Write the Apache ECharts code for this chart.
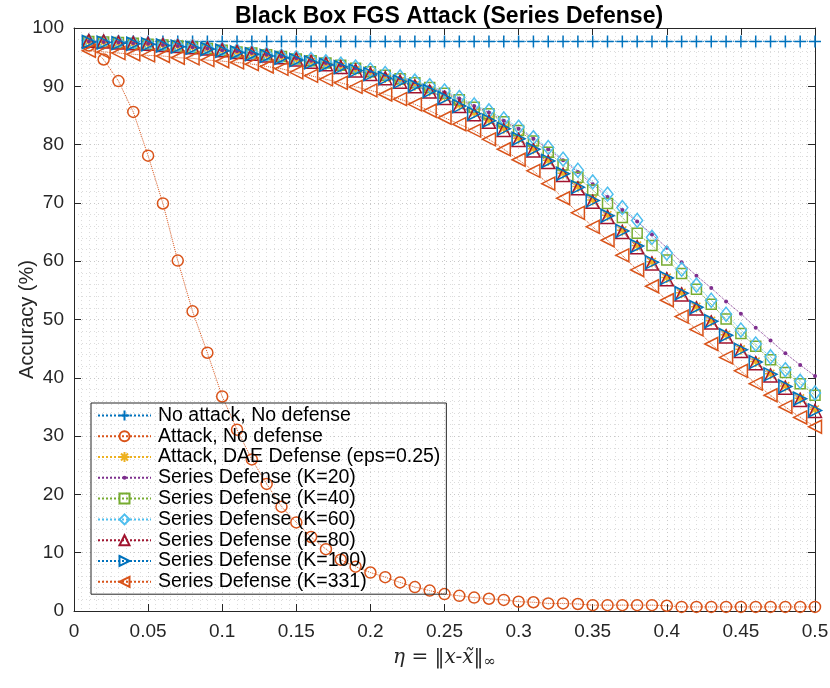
<!DOCTYPE html>
<html>
<head>
<meta charset="utf-8">
<title>Black Box FGS Attack (Series Defense)</title>
<script src="https://cdn.jsdelivr.net/npm/echarts@6/dist/echarts.min.js"></script>
<style>
  html, body { margin: 0; padding: 0; background: #fff; }
  #chart { width: 830px; height: 688px; }
</style>
</head>
<body>
<div id="chart"></div>
<script>
// eta = ||x - x~||_inf
const eta = [
  0.01, 0.02, 0.03, 0.04, 0.05, 0.06, 0.07, 0.08, 0.09, 0.10,
  0.11, 0.12, 0.13, 0.14, 0.15, 0.16, 0.17, 0.18, 0.19, 0.20,
  0.21, 0.22, 0.23, 0.24, 0.25, 0.26, 0.27, 0.28, 0.29, 0.30,
  0.31, 0.32, 0.33, 0.34, 0.35, 0.36, 0.37, 0.38, 0.39, 0.40,
  0.41, 0.42, 0.43, 0.44, 0.45, 0.46, 0.47, 0.48, 0.49, 0.50
]

const noAttack = [
  97.7, 97.7, 97.7, 97.7, 97.7, 97.7, 97.7, 97.7, 97.7, 97.7,
  97.7, 97.7, 97.7, 97.7, 97.7, 97.7, 97.7, 97.7, 97.7, 97.7,
  97.7, 97.7, 97.7, 97.7, 97.7, 97.7, 97.7, 97.7, 97.7, 97.7,
  97.7, 97.7, 97.7, 97.7, 97.7, 97.7, 97.7, 97.7, 97.7, 97.7,
  97.7, 97.7, 97.7, 97.7, 97.7, 97.7, 97.7, 97.7, 97.7, 97.7
]

const attackNoDefense = [
  97.0, 94.6, 90.9, 85.6, 78.1, 69.9, 60.1, 51.4, 44.3, 36.8,
  31.1, 26.0, 21.8, 17.9, 15.2, 12.7, 10.6, 8.8, 7.6, 6.6,
  5.8, 4.9, 4.1, 3.5, 2.9, 2.6, 2.3, 2.1, 1.9, 1.6,
  1.5, 1.3, 1.3, 1.2, 1.0, 1.0, 1.0, 1.0, 1.0, 0.9,
  0.7, 0.7, 0.7, 0.7, 0.7, 0.7, 0.7, 0.7, 0.7, 0.7
]

const daeDefense = [
  97.7, 97.6, 97.5, 97.4, 97.3, 97.1, 96.9, 96.7, 96.5, 96.2,
  95.9, 95.6, 95.3, 95.0, 94.6, 94.2, 93.8, 93.4, 92.8, 92.2,
  91.5, 90.9, 90.2, 89.3, 88.2, 86.8, 85.5, 84.2, 82.8, 81.1,
  79.3, 77.3, 75.1, 72.8, 70.5, 67.9, 65.3, 62.7, 59.9, 57.2,
  54.6, 52.2, 49.8, 47.4, 44.9, 42.8, 40.7, 38.6, 36.5, 34.6
]

const seriesK20 = [
  97.7, 97.6, 97.5, 97.4, 97.3, 97.1, 96.9, 96.7, 96.5, 96.2,
  96.0, 95.7, 95.4, 95.1, 94.8, 94.4, 94.0, 93.6, 93.1, 92.6,
  92.0, 91.4, 90.7, 89.9, 89.0, 87.9, 86.6, 85.5, 84.1, 82.7,
  81.0, 79.2, 77.3, 75.3, 73.2, 71.0, 68.8, 66.8, 64.6, 62.3,
  59.8, 57.5, 55.4, 53.1, 51.0, 48.6, 46.4, 44.2, 42.2, 40.3
]

const seriesK40 = [
  97.7, 97.6, 97.5, 97.4, 97.2, 97.1, 96.9, 96.7, 96.5, 96.2,
  95.9, 95.7, 95.4, 95.1, 94.7, 94.4, 94.0, 93.6, 93.1, 92.5,
  91.9, 91.3, 90.6, 89.8, 88.8, 87.7, 86.4, 85.3, 83.9, 82.4,
  80.6, 78.7, 76.5, 74.4, 72.2, 69.9, 67.5, 64.8, 62.7, 60.2,
  57.9, 55.2, 52.6, 50.1, 47.6, 45.4, 43.1, 40.9, 39.0, 37.0
]

const seriesK60 = [
  97.7, 97.6, 97.5, 97.4, 97.3, 97.1, 97.0, 96.8, 96.6, 96.3,
  96.1, 95.8, 95.5, 95.2, 94.9, 94.6, 94.2, 93.8, 93.3, 92.8,
  92.2, 91.6, 90.9, 90.1, 89.2, 88.1, 86.8, 85.8, 84.4, 83.0,
  81.2, 79.5, 77.5, 75.6, 73.6, 71.5, 69.2, 67.0, 64.1, 61.4,
  58.6, 55.9, 53.3, 50.9, 48.2, 45.8, 43.6, 41.4, 39.4, 37.4
]

const seriesK80 = [
  97.8, 97.7, 97.5, 97.4, 97.3, 97.1, 96.9, 96.7, 96.5, 96.2,
  95.9, 95.6, 95.3, 95.0, 94.6, 94.2, 93.8, 93.3, 92.7, 92.1,
  91.4, 90.8, 90.0, 89.1, 88.0, 86.6, 85.2, 83.9, 82.5, 80.8,
  79.0, 77.0, 74.8, 72.5, 70.2, 67.6, 65.0, 62.4, 59.6, 56.9,
  54.3, 51.9, 49.5, 47.1, 44.6, 42.5, 40.4, 38.3, 36.2, 34.3
]

const seriesK100 = [
  97.6, 97.5, 97.4, 97.3, 97.2, 97.0, 96.8, 96.6, 96.4, 96.1,
  95.8, 95.5, 95.2, 94.9, 94.5, 94.1, 93.7, 93.3, 92.7, 92.1,
  91.4, 90.8, 90.1, 89.2, 88.0, 86.6, 85.3, 84.1, 82.7, 81.0,
  79.2, 77.2, 75.0, 72.7, 70.4, 67.8, 65.2, 62.6, 59.8, 57.1,
  54.5, 52.1, 49.7, 47.3, 44.8, 42.7, 40.6, 38.5, 36.4, 34.4
]

const seriesK331 = [
  96.1, 95.9, 95.7, 95.5, 95.3, 95.2, 94.9, 94.8, 94.5, 94.3,
  94.1, 93.8, 93.4, 93.0, 92.4, 91.8, 91.2, 90.6, 89.9, 89.3,
  88.6, 87.8, 86.9, 85.8, 84.6, 83.5, 82.4, 80.9, 79.2, 77.4,
  75.5, 73.3, 70.8, 68.3, 65.9, 63.6, 61.0, 58.5, 55.7, 53.3,
  50.5, 48.3, 45.8, 43.5, 41.2, 39.0, 37.0, 35.0, 33.2, 31.6
]

const xTicks = { min: 0, max: 0.5, interval: 0.05 }
const yTicks = { min: 0, max: 100, interval: 10 }

// MATLAB-style markers
const PLUS = 'path://M5,0L5,10M0,5L10,5'
const STAR = 'path://M5,0L5,10M0,5L10,5M1.5,1.5L8.5,8.5M8.5,1.5L1.5,8.5'
const DOT = 'path://M0,0M10,10M5,3A2,2,0,1,1,5,7A2,2,0,1,1,5,3Z'
const TRI_UP = 'path://M5,0L10,9L0,9Z'
const TRI_RIGHT = 'path://M0,0L9,5L0,10Z'
const TRI_LEFT = 'path://M9,0L0,5L9,10Z'

const FONT = '"Liberation Sans", Arial, Helvetica, sans-serif'
const AXIS_COLOR = '#262626'

function pairs(values) {
  return eta.map((x, i) => [x, values[i]])
}

function lineSeries(name, values, color, symbol, size, filled) {
  return {
    name,
    type: 'line',
    data: pairs(values),
    symbol,
    symbolSize: size,
    showSymbol: true,
    lineStyle: { color, width: 1, type: 'dotted' },
    itemStyle: filled
      ? { color, borderWidth: 0 }
      : { color: 'none', borderColor: color, borderWidth: 1.5 },
    emphasis: { disabled: true },
    animation: false
  }
}

const seriesList = [
  lineSeries('No attack, No defense', noAttack, '#0072BD', PLUS, 12),
  lineSeries('Attack, No defense', attackNoDefense, '#D95319', 'circle', 11),
  lineSeries('Attack, DAE Defense (eps=0.25)', daeDefense, '#EDB120', STAR, 11),
  lineSeries('Series Defense (K=20)', seriesK20, '#7E2F8E', DOT, 10, true),
  lineSeries('Series Defense (K=40)', seriesK40, '#77AC30', 'rect', 10),
  lineSeries('Series Defense (K=60)', seriesK60, '#4DBEEE', 'diamond', [11, 14]),
  lineSeries('Series Defense (K=80)', seriesK80, '#A2142F', TRI_UP, 13),
  lineSeries('Series Defense (K=100)', seriesK100, '#0072BD', TRI_RIGHT, 13),
  lineSeries('Series Defense (K=331)', seriesK331, '#D95319', TRI_LEFT, 13)
]

const gridLine = { show: true, lineStyle: { color: '#c8c8c8', width: 1, type: [1, 3] } }
const minorGridLine = { show: true, lineStyle: { color: '#dcdcdc', width: 1, type: [1, 3] } }

function axisBase(extra) {
  return Object.assign({
    type: 'value',
    axisLine: { show: true, onZero: false, lineStyle: { color: AXIS_COLOR, width: 1 } },
    axisTick: { show: true, inside: true, length: 7, lineStyle: { color: AXIS_COLOR } }
  }, extra)
}

const chart = echarts.init(document.getElementById('chart'), null, { renderer: 'canvas' })

chart.setOption({
  backgroundColor: '#fff',
  animation: false,
  title: {
    text: 'Black Box FGS Attack (Series Defense)',
    left: 444,
    top: 0,
    textAlign: 'center',
    textStyle: { fontFamily: FONT, fontSize: 23, fontWeight: 'bold', color: '#000' }
  },
  grid: { left: 74, right: 15, top: 28, bottom: 77, containLabel: false, outerBoundsMode: 'none' },
  legend: {
    orient: 'vertical',
    left: 91,
    top: 403,
    padding: [2, 6, 2, 6],
    itemWidth: 53,
    itemHeight: 12.5,
    itemGap: 0,
    backgroundColor: 'transparent',
    borderColor: '#262626',
    borderWidth: 1,
    selectedMode: false,
    textStyle: { fontFamily: FONT, fontSize: 19.5, color: '#000', lineHeight: 20.8, padding: [0, 0, 0, 2] },
    data: seriesList.map(s => s.name)
  },
  xAxis: [
    axisBase({
      min: xTicks.min, max: xTicks.max, interval: xTicks.interval,
      position: 'bottom',
      name: '{a|η = ‖x-x̃‖}{b|∞}',
      nameLocation: 'middle',
      nameGap: 34,
      nameMoveOverlap: false,
      nameTextStyle: {
        rich: {
          a: { fontFamily: '"DejaVu Serif", "Liberation Serif", serif', fontStyle: 'italic', fontSize: 20, color: AXIS_COLOR },
          b: { fontFamily: '"DejaVu Serif", "Liberation Serif", serif', fontSize: 15, color: AXIS_COLOR, padding: [10, 0, 0, 0] }
        }
      },
      axisLabel: { fontFamily: FONT, fontSize: 19, color: AXIS_COLOR, margin: 11 },
      splitLine: gridLine,
      minorTick: { show: true, splitNumber: 10, length: 0, lineStyle: { color: 'transparent' } },
      minorSplitLine: minorGridLine
    }),
    axisBase({
      min: xTicks.min, max: xTicks.max, interval: xTicks.interval,
      position: 'top',
      axisLabel: { show: false },
      splitLine: { show: false }
    })
  ],
  yAxis: [
    axisBase({
      min: yTicks.min, max: yTicks.max, interval: yTicks.interval,
      position: 'left',
      name: 'Accuracy (%)',
      nameLocation: 'middle',
      nameGap: 37,
      nameMoveOverlap: false,
      nameTextStyle: { fontFamily: FONT, fontSize: 20, color: AXIS_COLOR },
      axisLabel: { fontFamily: FONT, fontSize: 19, color: AXIS_COLOR, margin: 10 },
      splitLine: gridLine,
      minorTick: { show: true, splitNumber: 5, length: 0, lineStyle: { color: 'transparent' } },
      minorSplitLine: minorGridLine
    }),
    axisBase({
      min: yTicks.min, max: yTicks.max, interval: yTicks.interval,
      position: 'right',
      axisLabel: { show: false },
      splitLine: { show: false }
    })
  ],
  series: seriesList
})
</script>
</body>
</html>
